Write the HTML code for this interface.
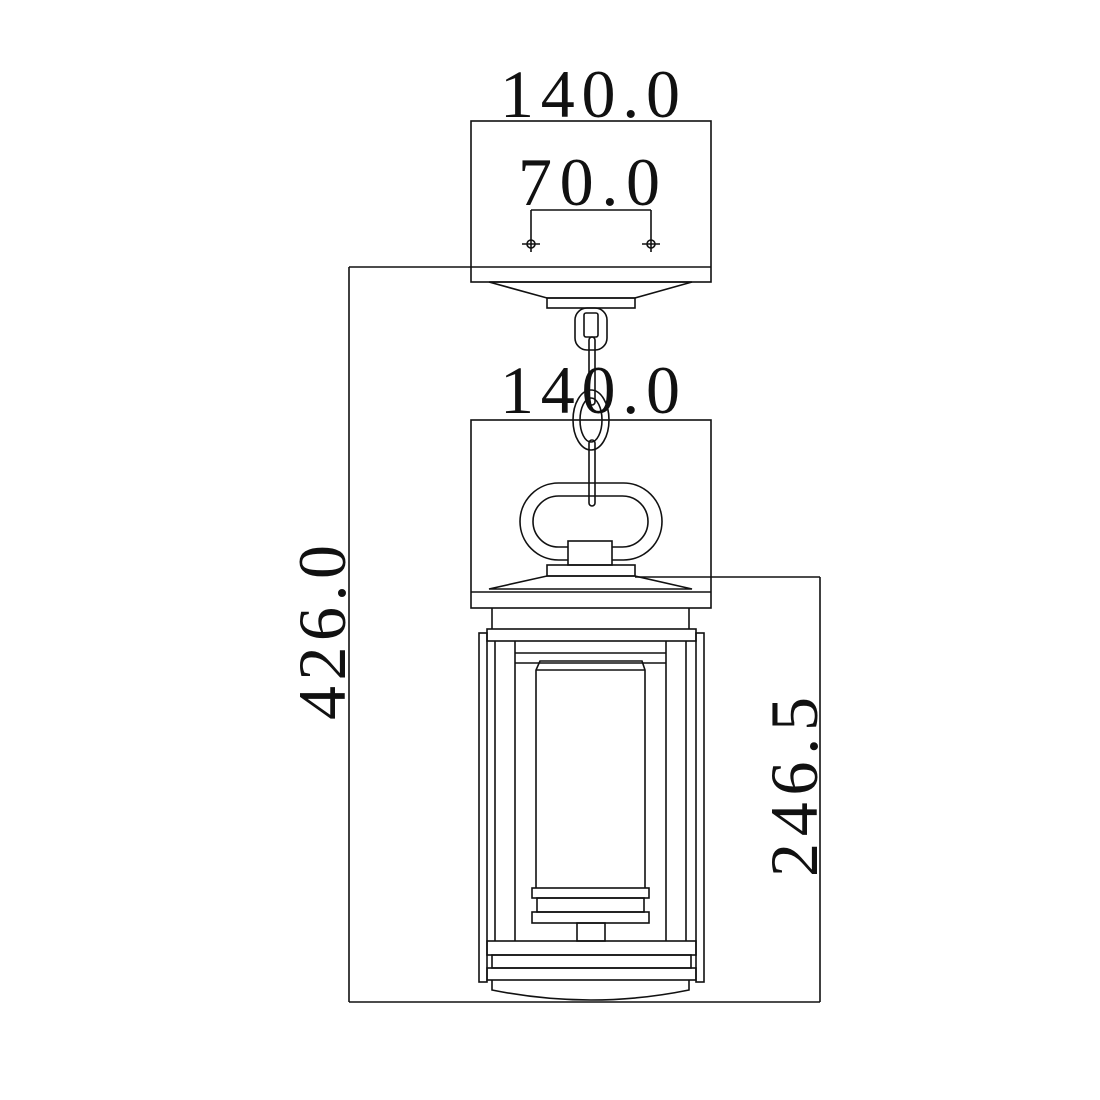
<!DOCTYPE html>
<html><head><meta charset="utf-8"><style>html,body{margin:0;padding:0;background:#fff}svg{display:block}</style></head>
<body>
<svg width="1100" height="1100" viewBox="0 0 1100 1100" xmlns="http://www.w3.org/2000/svg">
<rect width="1100" height="1100" fill="#fff"/>
<g fill="none" stroke="#111" stroke-width="1.6">
<!-- top box -->
<rect x="471" y="121" width="240" height="161"/>
<line x1="349" y1="267" x2="711" y2="267"/>
<!-- 70 dim -->
<line x1="531" y1="210" x2="651" y2="210"/>
<line x1="531" y1="210" x2="531" y2="252"/>
<line x1="651" y1="210" x2="651" y2="252"/>
<circle cx="531" cy="244" r="4"/><line x1="522" y1="244" x2="540" y2="244"/>
<circle cx="651" cy="244" r="4"/><line x1="642" y1="244" x2="660" y2="244"/>
<!-- canopy -->
<polygon points="489,282 692,282 635,298 547,298"/>
<rect x="547" y="298" width="88" height="10"/>
<!-- chain -->
<rect x="575" y="308" width="32" height="42" rx="12"/>
<rect x="584" y="313" width="14" height="24" rx="2"/>
<rect x="589" y="337" width="6" height="68" rx="3"/>
<ellipse cx="591" cy="420" rx="18" ry="30"/>
<ellipse cx="591" cy="420" rx="11" ry="22"/>
<rect x="589" y="440" width="6" height="66" rx="3"/>
<!-- ring -->
<path d="M558.5,483 H623.5 A38.5,38.5 0 0 1 623.5,560 H558.5 A38.5,38.5 0 0 1 558.5,483 Z"/>
<path d="M558.5,496 H622.5 A25.5,25.5 0 0 1 622.5,547 H558.5 A25.5,25.5 0 0 1 558.5,496 Z"/>
<rect x="568" y="541" width="44" height="24" fill="#fff"/>
<!-- second box -->
<rect x="471" y="420" width="240" height="188"/>
<line x1="471" y1="592" x2="711" y2="592"/>
<rect x="547" y="565" width="88" height="11"/>
<polygon points="547,576 635,576 692,589 489,589"/>
<line x1="635" y1="577" x2="820" y2="577"/>
<!-- lantern -->
<line x1="492" y1="608" x2="492" y2="629"/>
<line x1="689" y1="608" x2="689" y2="629"/>
<rect x="487" y="629" width="209" height="12"/>
<rect x="479" y="633" width="8" height="349"/>
<rect x="696" y="633" width="8" height="349"/>
<line x1="495" y1="641" x2="495" y2="941"/>
<line x1="515" y1="641" x2="515" y2="941"/>
<line x1="666" y1="641" x2="666" y2="941"/>
<line x1="686" y1="641" x2="686" y2="941"/>
<line x1="515" y1="653" x2="666" y2="653"/>
<line x1="515" y1="663" x2="666" y2="663"/>
<path d="M536,888 V670 L540,661 H642 L645,670 V888"/>
<line x1="536" y1="670" x2="645" y2="670"/>
<rect x="532" y="888" width="117" height="10"/>
<rect x="537" y="898" width="107" height="14"/>
<rect x="532" y="912" width="117" height="11"/>
<rect x="577" y="923" width="28" height="18"/>
<rect x="487" y="941" width="209" height="14"/>
<rect x="492" y="955" width="199" height="13"/>
<rect x="487" y="968" width="209" height="12"/>
<path d="M492,980 V990 Q591,1010 689,990 V980"/>
<!-- dims -->
<line x1="349" y1="267" x2="349" y2="1002"/>
<line x1="349" y1="1002" x2="820" y2="1002"/>
<line x1="820" y1="577" x2="820" y2="1002"/>
</g>
<g font-family="Liberation Serif, serif" font-size="68" fill="#111">
<text x="500" y="117" textLength="180" lengthAdjust="spacing">140.0</text>
<text x="518" y="205" textLength="142" lengthAdjust="spacing">70.0</text>
<text x="500" y="413" textLength="180" lengthAdjust="spacing">140.0</text>
<text transform="translate(345,720) rotate(-90)" textLength="175" lengthAdjust="spacing">426.0</text>
<text transform="translate(817,877) rotate(-90)" textLength="180" lengthAdjust="spacing">246.5</text>
</g>
</svg>
</body></html>
